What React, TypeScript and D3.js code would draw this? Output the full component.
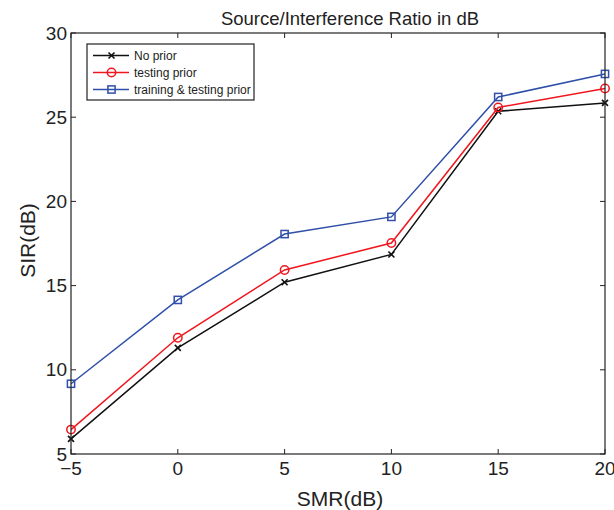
import * as d3 from 'd3';
import React from 'react';

// SMR values on the x axis
const smr = [-5, 0, 5, 10, 15, 20];

// SIR per method
const noPrior = [5.9, 11.3, 15.2, 16.85, 25.35, 25.85];
const testingPrior = [6.45, 11.9, 15.93, 17.53, 25.58, 26.7];
const trainTestPrior = [9.17, 14.15, 18.06, 19.08, 26.2, 27.57];

const seriesNames = ['No prior', 'testing prior', 'training & testing prior'];
const seriesColors = ['#111111', '#f0161e', '#2f4fa8'];
const seriesMarkers = ['x', 'circle', 'square'];

const xTicks = [-5, 0, 5, 10, 15, 20];
const yTicks = [5, 10, 15, 20, 25, 30];

const FONT = '"Liberation Sans", Arial, Helvetica, sans-serif';

const Marker = ({ type, x, y, color }) => {
  if (type === 'circle') {
    return <circle cx={x} cy={y} r={4.2} fill="none" stroke={color} strokeWidth={1.5} />;
  }
  if (type === 'square') {
    return <rect x={x - 3.6} y={y - 3.6} width={7.2} height={7.2} fill="none" stroke={color} strokeWidth={1.5} />;
  }
  const s = 3;
  return (
    <g stroke={color} strokeWidth={1.6}>
      <line x1={x - s} y1={y - s} x2={x + s} y2={y + s} />
      <line x1={x - s} y1={y + s} x2={x + s} y2={y - s} />
    </g>
  );
};

export default function App() {
  const left = 71;
  const right = 605;
  const top = 33;
  const bottom = 454;

  const x = d3.scaleLinear().domain([-5, 20]).range([left, right]);
  const y = d3.scaleLinear().domain([5, 30]).range([bottom, top]);

  const allSeries = [noPrior, testingPrior, trainTestPrior];

  const line = d3
    .line<number>()
    .x((_, i) => x(smr[i]))
    .y((d) => y(d));

  const tickLen = 5;

  return (
    <svg
      width={614}
      height={510}
      style={{ position: 'absolute', left: 0, top: 0, background: '#fff' }}
      fontFamily={FONT}
    >
      {/* title */}
      <text x={350} y={25} textAnchor="middle" fontSize={18.5} fill="#222">
        Source/Interference Ratio in dB
      </text>

      {/* series lines */}
      {allSeries.map((vals, si) => (
        <g key={si}>
          <path d={line(vals)} fill="none" stroke={seriesColors[si]} strokeWidth={1.5} />
          {vals.map((v, i) => (
            <Marker key={i} type={seriesMarkers[si]} x={x(smr[i])} y={y(v)} color={seriesColors[si]} />
          ))}
        </g>
      ))}

      {/* axes box */}
      <rect x={left} y={top} width={right - left} height={bottom - top} fill="none" stroke="#222" strokeWidth={1.2} />

      {/* x ticks */}
      {xTicks.map((t) => (
        <g key={'x' + t}>
          <line x1={x(t)} x2={x(t)} y1={bottom} y2={bottom - tickLen} stroke="#222" />
          <line x1={x(t)} x2={x(t)} y1={top} y2={top + tickLen} stroke="#222" />
          <text x={x(t)} y={475} textAnchor="middle" fontSize={19} fill="#222">
            {t < 0 ? '\u2212' + Math.abs(t) : t}
          </text>
        </g>
      ))}

      {/* y ticks */}
      {yTicks.map((t) => (
        <g key={'y' + t}>
          <line x1={left} x2={left + tickLen} y1={y(t)} y2={y(t)} stroke="#222" />
          <line x1={right} x2={right - tickLen} y1={y(t)} y2={y(t)} stroke="#222" />
          <text x={67} y={y(t) + 6.5} textAnchor="end" fontSize={19} fill="#222">
            {t}
          </text>
        </g>
      ))}

      {/* axis labels */}
      <text x={340} y={506} textAnchor="middle" fontSize={21} fill="#222">
        SMR(dB)
      </text>
      <text
        transform={`translate(35,${(top + bottom) / 2 - 3}) rotate(-90)`}
        textAnchor="middle"
        fontSize={21}
        fill="#222"
      >
        SIR(dB)
      </text>

      {/* legend */}
      <rect x={87} y={44} width={167} height={56} fill="#fff" stroke="#222" strokeWidth={1.2} />
      {seriesNames.map((name, i) => {
        const ly = 55.5 + i * 17;
        return (
          <g key={name}>
            <line x1={93} x2={129} y1={ly} y2={ly} stroke={seriesColors[i]} strokeWidth={1.5} />
            <Marker type={seriesMarkers[i]} x={111.5} y={ly} color={seriesColors[i]} />
            <text x={134} y={ly + 4.2} fontSize={12} fill="#222">
              {name}
            </text>
          </g>
        );
      })}
    </svg>
  );
}
